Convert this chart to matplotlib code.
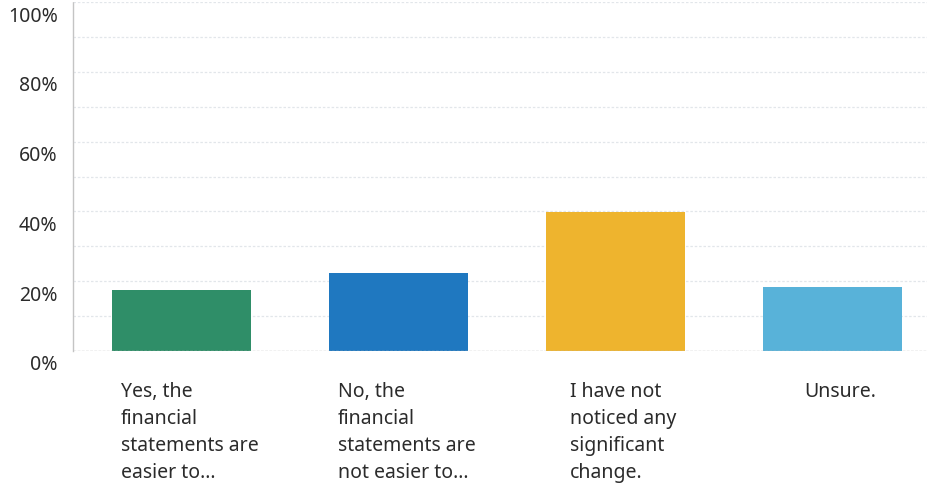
import matplotlib
matplotlib.use("Agg")
import matplotlib.pyplot as plt
import matplotlib.transforms as mtransforms

# survey answers and share of respondents (%)
answers = [
    "Yes, the\nfinancial\nstatements are\neasier to...",
    "No, the\nfinancial\nstatements are\nnot easier to...",
    "I have not\nnoticed any\nsignificant\nchange.",
    "Unsure.",
]
shares = [17.5, 22.4, 39.8, 18.2]
colors = ["#2f8e68", "#1f78c0", "#eeb42e", "#58b2d9"]
y_ticks = [0, 20, 40, 60, 80, 100]
y_tick_labels = ["0%", "20%", "40%", "60%", "80%", "100%"]

plt.rcParams["font.family"] = ["Noto Sans", "DejaVu Sans"]

fig = plt.figure(figsize=(9.28, 4.86), dpi=100)
ax = fig.add_axes([73 / 928, 135 / 486, 868 / 928, 349 / 486])

x = range(len(answers))
ax.bar(x, shares, width=0.645, color=colors, zorder=3)

ax.set_xlim(-0.5, 3.5)
ax.set_ylim(0, 100)

# faint dotted gridlines every 10%
for v in range(10, 101, 10):
    ax.axhline(v, color="#e2e6ea", lw=0.9, ls=(0, (2, 1.5)), zorder=1)
ax.axhline(0, color="#b8b8b8", lw=1.0, ls=(0, (2, 1)), zorder=4)

for s in ["top", "right", "bottom"]:
    ax.spines[s].set_visible(False)
ax.spines["left"].set_color("#c4c4c4")
ax.spines["left"].set_linestyle((0, (2, 1)))
ax.spines["left"].set_linewidth(1.0)

ax.set_yticks(y_ticks)
ax.set_yticklabels(y_tick_labels, fontsize=14, color="#2b2b2b")
ax.tick_params(axis="y", length=0, pad=11)
down = mtransforms.ScaledTranslation(0, -12 / 100, fig.dpi_scale_trans)
for lab in ax.get_yticklabels():
    lab.set_transform(lab.get_transform() + down)

ax.set_xticks(list(x))
ax.set_xticklabels(answers, fontsize=14, color="#2b2b2b",
                   ha="center", va="top", multialignment="left", linespacing=1.47)
ax.tick_params(axis="x", length=0, pad=22)
right = mtransforms.ScaledTranslation(8 / 100, 0, fig.dpi_scale_trans)
for lab in ax.get_xticklabels():
    lab.set_transform(lab.get_transform() + right)

fig.savefig("out.png", dpi=100, facecolor="white")
